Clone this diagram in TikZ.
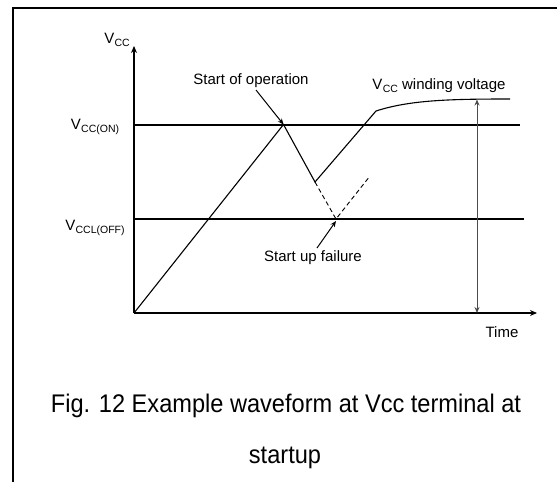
\documentclass[tikz,border=0pt]{standalone}
\usepackage{fontspec}
\setmainfont{Liberation Sans}
\usetikzlibrary{arrows.meta}
\newcommand{\Vs}[1]{V\kern0.3pt\raisebox{-2.5pt}{\fontsize{10.5}{12}\selectfont #1}}
\begin{document}
\begin{tikzpicture}[x=1pt,y=-1pt,
  lbl/.style={inner sep=0pt,font=\fontsize{15}{17}\selectfont},
  captiontext/.style={inner sep=0pt,anchor=base,font=\fontsize{25.5}{28}\selectfont},
  wave/.style={line width=1.1pt,line join=miter},
  axisline/.style={line width=1.2pt,-{Stealth[length=7pt,width=6pt]}},
  level/.style={line width=1.1pt},
  pointer/.style={line width=1pt,-{Stealth[length=6pt,width=5pt]}},
  dashwave/.style={line width=0.9pt,dash pattern=on 4.5pt off 3pt}]
\useasboundingbox (0,0) rectangle (557,482);
% frame
\draw[line width=2pt] (12.5,482) -- (12.5,8) -- (557,8);
% coordinates
\coordinate (O) at (134,313);
\coordinate (ytip) at (134,46);
\coordinate (xtip) at (537,313);
\coordinate (onL) at (134,125);
\coordinate (onR) at (520,125);
\coordinate (offL) at (134,219);
\coordinate (offR) at (524,219);
\coordinate (peak) at (283.5,124.5);
\coordinate (valley) at (315,182);
\coordinate (knee) at (376,111);
\coordinate (endc) at (510,99);
\coordinate (dlow) at (336,219);
\coordinate (dup) at (370,176);
\coordinate (vtop) at (477,99.5);
\coordinate (vbot) at (477,313);
\coordinate (a1) at (256,90);
\coordinate (a2) at (317,248);
\coordinate (a2tip) at (336,221);
% axes
\draw[axisline] (O) -- (ytip);
\draw[axisline] (O) -- (xtip);
% levels
\draw[level] (onL) -- (onR);
\draw[level] (offL) -- (offR);
% waveform
\draw[wave] (O) -- (peak) -- (valley) -- (knee) .. controls (410,100) and (450,99) .. (endc);
\draw[dashwave] (valley) -- (dlow) -- (dup);
% vertical span arrow
\draw[line width=1pt,draw=black!70,{Stealth[length=6pt,width=5pt]}-{Stealth[length=6pt,width=5pt]}] (vtop) -- (vbot);
% labels
\node[lbl] (vcc) at (117,40) {\Vs{CC}};
\node[lbl] (von) at (95,127) {\Vs{CC(ON)}};
\node[lbl] (voff) at (95,228) {\Vs{CCL(OFF)}};
\node[lbl] (time) at (502,332) {Time};
\node[lbl] (sop) at (251,81) {Start of operation};
\node[lbl] (wind) at (439,86) {\Vs{CC} winding voltage};
\node[lbl] (suf) at (313,258) {Start up failure};
\draw[pointer] (a1) -- (peak);
\draw[pointer] (a2) -- (a2tip);
% caption
\node[captiontext] (cap1) at (286,412) {\scalebox{0.925}[1]{Fig. 12 Example waveform at Vcc terminal at}};
\node[captiontext] (cap2) at (285,463) {\scalebox{0.925}[1]{startup}};
\end{tikzpicture}
\end{document}
